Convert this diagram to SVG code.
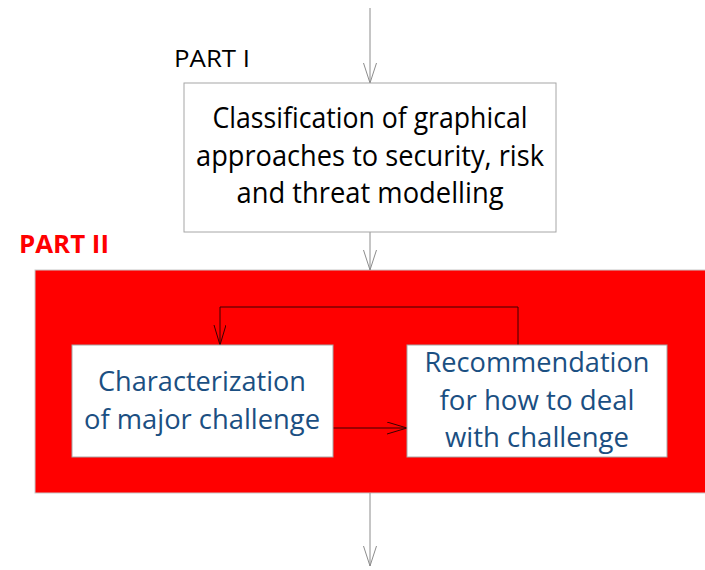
<svg xmlns="http://www.w3.org/2000/svg" width="705" height="570" viewBox="0 0 705 570">
<style>
.box{fill:#ffffff;stroke:#a6a6a6;stroke-width:1}
.t{font-family:"Open Sans","Liberation Sans",sans-serif;text-anchor:middle}
.main{font-size:29px;fill:#000000}
.blue{font-size:27px;fill:#1b4f82}
.grey{stroke:#8c8c8c;stroke-width:1;fill:none}
.dark{stroke:#3a0000;stroke-width:1;fill:none}
</style>
<defs>
<marker id="ag" markerWidth="22" markerHeight="14" refX="20" refY="6.5" orient="auto" markerUnits="userSpaceOnUse">
<path d="M0,0 L20,6.5 L0,13" fill="none" stroke="#8c8c8c" stroke-width="1"/>
</marker>
<marker id="ad" markerWidth="22" markerHeight="14" refX="20" refY="6" orient="auto" markerUnits="userSpaceOnUse">
<path d="M0,0 L20,6 L0,12" fill="none" stroke="#3a0000" stroke-width="1"/>
</marker>
</defs>
<rect x="0" y="0" width="705" height="570" fill="#ffffff"/>
<g id="part2-region">
<rect x="35" y="270" width="675" height="223" fill="#ff0000" stroke="#c8c8c8" stroke-width="1"/>
<text x="19" y="253" font-family="'Open Sans','Liberation Sans',sans-serif" font-weight="bold" font-size="25" fill="#ff0000" textLength="90" lengthAdjust="spacingAndGlyphs">PART II</text>
</g>
<g id="part1-label">
<text x="174" y="67" font-family="'Open Sans','Liberation Sans',sans-serif" font-size="23" fill="#000000" textLength="76" lengthAdjust="spacingAndGlyphs">PART I</text>
</g>
<g id="connectors">
<line class="grey" x1="370" y1="8" x2="370" y2="83" marker-end="url(#ag)"/>
<line class="grey" x1="370" y1="232" x2="370" y2="270" marker-end="url(#ag)"/>
<line class="grey" x1="370" y1="493" x2="370" y2="566" marker-end="url(#ag)"/>
<line class="dark" x1="333" y1="428" x2="407" y2="428" marker-end="url(#ad)"/>
<polyline class="dark" points="518,345 518,307 220,307 220,345" marker-end="url(#ad)"/>
</g>
<g id="classification">
<rect class="box" x="184" y="83" width="372" height="149"/>
<text class="t main" x="370" y="128" textLength="315" lengthAdjust="spacingAndGlyphs">Classification of graphical</text>
<text class="t main" x="370" y="166" textLength="348" lengthAdjust="spacingAndGlyphs">approaches to security, risk</text>
<text class="t main" x="370" y="203" textLength="267" lengthAdjust="spacingAndGlyphs">and threat modelling</text>
</g>
<g id="characterization">
<rect class="box" x="72" y="345" width="261" height="112"/>
<text class="t blue" x="202" y="391" textLength="208" lengthAdjust="spacingAndGlyphs">Characterization</text>
<text class="t blue" x="202" y="429" textLength="236" lengthAdjust="spacingAndGlyphs">of major challenge</text>
</g>
<g id="recommendation">
<rect class="box" x="407" y="345" width="260" height="112"/>
<text class="t blue" x="537" y="372" textLength="225" lengthAdjust="spacingAndGlyphs">Recommendation</text>
<text class="t blue" x="537" y="410" textLength="195" lengthAdjust="spacingAndGlyphs">for how to deal</text>
<text class="t blue" x="537" y="447" textLength="184" lengthAdjust="spacingAndGlyphs">with challenge</text>
</g>
</svg>
